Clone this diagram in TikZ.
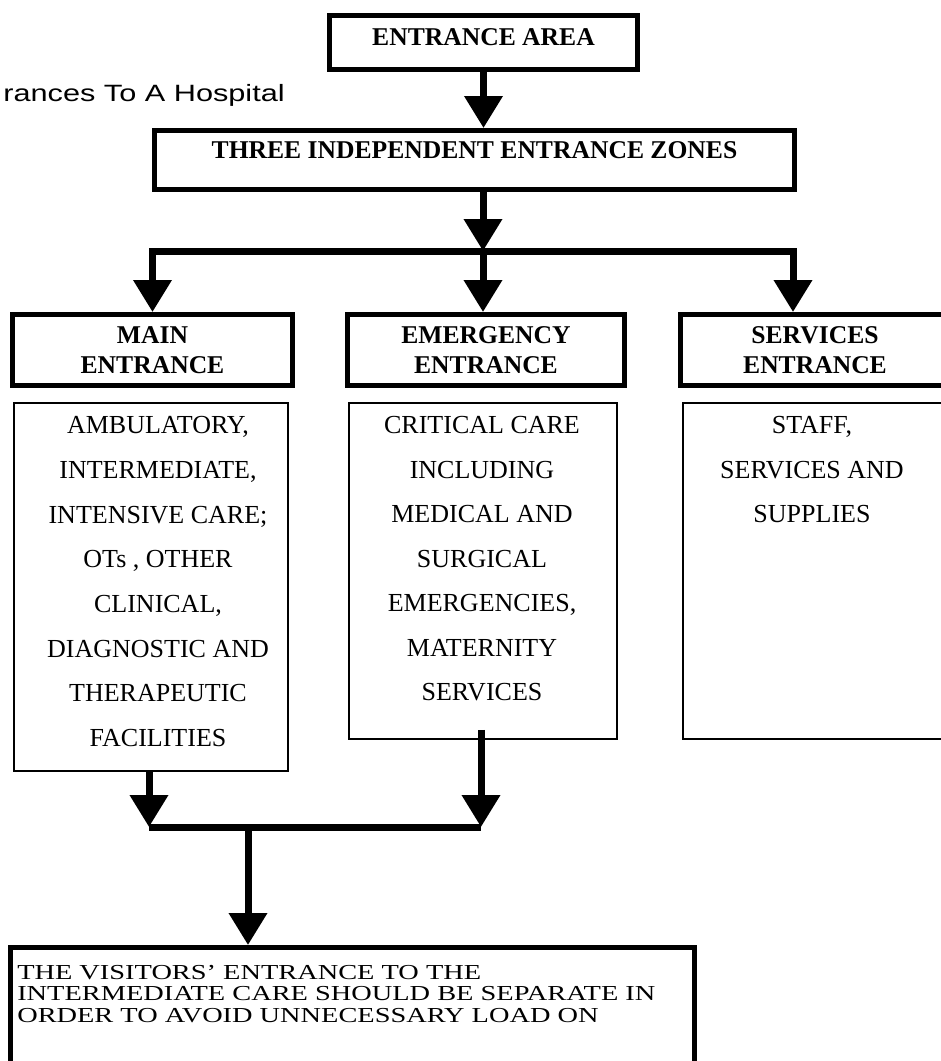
\documentclass[tikz,border=0pt]{standalone}
\usepackage{fontspec}
\setmainfont{Liberation Serif}
\newfontfamily\sansfam{Liberation Sans}[FakeStretch=1.3]
\newfontfamily\widefam{Liberation Serif}[FakeStretch=1.33]
\usetikzlibrary{arrows.meta}
\def\pxu{0.75pt}
\begin{document}
\begin{tikzpicture}[x=0.75pt,y=-0.75pt,
  hbox/.style={draw,line width=3.75pt,inner sep=0pt,align=center,
    font=\bfseries\fontsize{19.2}{22.5}\selectfont},
  dbox/.style={draw,line width=1.4pt,inner sep=0pt},
  arr/.style={line width=5.25pt,-{Triangle[width=27.75pt,length=24pt]}},
  barline/.style={line width=5.25pt},
  bd/.style={font=\fontsize{19.5}{20}\selectfont,inner sep=0pt,anchor=base},
  wt/.style={font=\widefam\fontsize{16}{16}\selectfont,inner sep=0pt,anchor=base west},
]
\useasboundingbox (0,0) rectangle (941,1061);

% title
\node[font=\sansfam\fontsize{17.7}{18}\selectfont,inner sep=0pt,anchor=base east] (title) at (285,101.7) {rances To A Hospital};

% heading boxes
\node[hbox,minimum width=308*\pxu,minimum height=54*\pxu,text depth=8.25pt] (ea) at (483.5,42.5) {ENTRANCE AREA};
\node[hbox,minimum width=640*\pxu,minimum height=59*\pxu,text depth=15pt] (three) at (474.5,160) {THREE INDEPENDENT ENTRANCE ZONES};
\node[hbox,minimum width=280*\pxu,minimum height=71*\pxu] (main) at (152.5,350) {MAIN\\ENTRANCE};
\node[hbox,minimum width=277*\pxu,minimum height=71*\pxu] (emer) at (486,350) {EMERGENCY\\ENTRANCE};
\node[hbox,minimum width=269*\pxu,minimum height=71*\pxu] (serv) at (815,350) {SERVICES\\ENTRANCE};

% detail boxes
\node[dbox,minimum width=274*\pxu,minimum height=368*\pxu] (md) at (151,587) {};
\node[dbox,minimum width=268*\pxu,minimum height=336*\pxu] (ed) at (483,571) {};
\node[dbox,minimum width=262*\pxu,minimum height=336*\pxu] (sd) at (814,571) {};

% detail texts
\foreach \t [count=\i from 0] in {{AMBULATORY,},{INTERMEDIATE,},{INTENSIVE CARE;},{OTs , OTHER},{CLINICAL,},{DIAGNOSTIC AND},{THERAPEUTIC},{FACILITIES}}
  \node[bd] (mt\i) at (158,{433.6+\i*44.7}) {\t};
\foreach \t [count=\i from 0] in {{CRITICAL CARE},{INCLUDING},{MEDICAL AND},{SURGICAL},{EMERGENCIES,},{MATERNITY},{SERVICES}}
  \node[bd] (et\i) at (482,{433.6+\i*44.5}) {\t};
\foreach \t [count=\i from 0] in {{STAFF,},{SERVICES AND},{SUPPLIES}}
  \node[bd] (st\i) at (812,{433.6+\i*44.5}) {\t};

% bottom box
\node[draw,line width=3.75pt,inner sep=0pt,minimum width=684*\pxu,minimum height=132.5*\pxu] (vb) at (352.5,1013.75) {};
\node[wt] (v1) at (17,979) {THE VISITORS’ ENTRANCE TO THE};
\node[wt] (v2) at (17,1000.5) {INTERMEDIATE CARE SHOULD BE SEPARATE IN};
\node[wt] (v3) at (17,1022) {ORDER TO AVOID UNNECESSARY LOAD ON};

% connectors top
\coordinate (jn) at (483,251);
\coordinate (sv) at (793,251);
\draw[arr] (ea.south) -- (ea.south |- three.north);
\draw[arr] (jn |- three.south) -- (jn);
\draw[arr] (jn) -| (main.north);
\draw[arr] (jn) -- (jn |- emer.north);
\draw[arr] (jn) -- (sv) -- (sv |- serv.north);

% connectors bottom
\coordinate (jb) at (248,827);
\coordinate (ml) at (149,827);
\coordinate (er) at (481,827);
\draw[arr] (md.south -| ml) -- (ml);
\draw[arr] ([yshift=7.5pt]ed.south -| er) -- (er);
\draw[barline] (ml) -- (er);
\draw[arr] (jb) -- (jb |- vb.north);
\end{tikzpicture}
\end{document}
